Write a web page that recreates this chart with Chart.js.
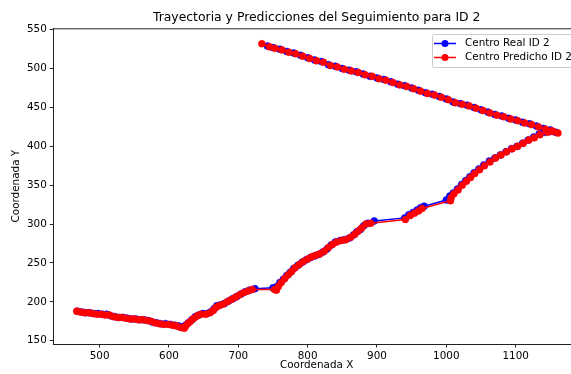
<html>
<head>
<meta charset="utf-8">
<script src="https://cdn.jsdelivr.net/npm/chart.js@4.4.1/dist/chart.umd.min.js"></script>
<style>
  body { margin: 0; overflow: hidden; background: #fff; }
  #wrap { width: 633px; height: 374px; }
</style>
</head>
<body>
<div id="wrap"><canvas id="traj" width="633" height="374"></canvas></div>
<script>
// tick labels
var xTicks = [500, 600, 700, 800, 900, 1000, 1100];
var yTicks = [150, 200, 250, 300, 350, 400, 450, 500, 550];

// Centro Real ID 2
var realX = [468,474,480,486,492,498,504,510,516,522,528,534,540,546,552,558,564,570,576,582,588,595,602,608,614,620,624,628,633,638,643,649,655,660,665,669,674,680,686,692,698,704,710,716,724,750,756,760,765,770,775,780,786,792,798,804,810,816,822,828,834,840,847,853,860,866,871,876,881,887,896,940,946,952,958,963,968,1000,1005,1010,1016,1022,1028,1034,1040,1047,1054,1062,1070,1078,1086,1094,1102,1110,1118,1126,1134,1142,1150,1158,1150,1140,1130,1120,1110,1100,1090,1080,1070,1060,1050,1040,1030,1020,1010,1000,990,980,970,960,950,940,930,920,910,900,890,880,870,860,850,840,830,820,810,800,790,780,770,760,750,742];
var realY = [188,187,186,186,185,185,184,184,182,181,180,180,179,178,178,177,177,176,174,173,172,172,171,170,169,168,170,173,177,181,183,185,185,187,191,195,196,198,201,204,207,210,213,215,217,218,220,225,229,234,238,243,247,251,254,257,259,261,264,268,273,277,279,280,282,286,290,293,298,301,304,308,312,315,318,321,323,331,336,340,345,351,356,361,366,371,376,381,385,389,393,397,400,404,408,412,416,418,419,418,421,423,426,429,431,434,436,439,441,444,447,450,453,455,457,461,464,467,469,472,475,478,480,483,486,488,490,493,496,498,500,503,505,509,511,514,517,520,522,525,527,529];

// Centro Predicho ID 2
var predX = [467,472,478,484,490,496,502,508,514,520,526,532,538,544,550,556,562,568,574,580,586,592,599,605,611,617,622,624,627,631,636,641,646,653,659,664,668,672,678,684,690,696,702,708,714,720,752,755,758,762,767,772,777,782,788,794,800,806,812,818,824,830,836,842,849,855,862,868,873,878,884,891,941,948,954,960,965,1006,1007,1011,1017,1023,1029,1035,1041,1048,1055,1063,1071,1079,1087,1095,1103,1111,1119,1127,1135,1146,1154,1161,1152,1143,1133,1123,1113,1103,1093,1083,1073,1063,1053,1043,1033,1023,1013,1003,993,983,973,963,953,943,933,923,913,903,893,883,873,863,853,843,833,823,813,803,793,783,773,763,753,745,734];
var predY = [188,187,186,186,185,184,184,183,183,181,180,180,179,178,178,177,177,176,175,173,172,171,171,170,169,167,166,169,172,175,179,182,184,184,186,189,193,195,197,200,203,206,209,212,214,216,216,215,220,225,230,235,239,244,248,252,255,258,260,262,265,270,274,277,279,280,283,287,291,295,300,301,306,311,314,317,320,330,334,339,344,350,355,360,365,370,375,380,385,389,393,397,400,404,408,411,415,418,419,417,420,422,425,428,430,433,435,438,440,443,446,449,452,454,456,460,463,466,468,471,474,477,479,482,485,487,490,492,495,497,499,502,504,508,510,513,516,519,521,524,526,528,532];

var chartTitle = 'Trayectoria y Predicciones del Seguimiento para ID 2';
var seriesNames = ['Centro Real ID 2', 'Centro Predicho ID 2'];

function pairs(xs, ys) {
  var out = [];
  for (var i = 0; i < xs.length; i++) out.push({x: xs[i], y: ys[i]});
  return out;
}

// title over the axes, top spine, matplotlib style legend
var extras = {
  id: 'extras',
  afterDraw: function(chart) {
    var ctx = chart.ctx, a = chart.chartArea;
    ctx.save();
    ctx.fillStyle = '#000';
    ctx.font = '12.4px "DejaVu Sans"';
    ctx.textAlign = 'center';
    ctx.textBaseline = 'middle';
    ctx.fillText(chartTitle, (a.left + a.right) / 2, 17.5);

    ctx.strokeStyle = '#222';
    ctx.lineWidth = 1;
    ctx.beginPath();
    ctx.moveTo(a.left, a.top + 0.5);
    ctx.lineTo(a.right, a.top + 0.5);
    ctx.stroke();

    // legend box
    var bx = 432.5, by = 34.5, bw = 143, bh = 33;
    ctx.globalAlpha = 0.8;
    ctx.fillStyle = '#fff';
    ctx.beginPath();
    ctx.roundRect(bx, by, bw, bh, 2);
    ctx.fill();
    ctx.globalAlpha = 1;
    ctx.strokeStyle = '#ccc';
    ctx.stroke();

    var cols = ['#0000ff', '#ff0000'];
    var rows = [43.5, 57.5];
    ctx.font = '10.4px "DejaVu Sans"';
    ctx.textAlign = 'left';
    for (var i = 0; i < 2; i++) {
      ctx.strokeStyle = cols[i];
      ctx.fillStyle = cols[i];
      ctx.lineWidth = 1.5;
      ctx.beginPath();
      ctx.moveTo(434, rows[i]);
      ctx.lineTo(456, rows[i]);
      ctx.stroke();
      ctx.beginPath();
      ctx.arc(445, rows[i], 3.5, 0, Math.PI * 2);
      ctx.fill();
      ctx.fillStyle = '#000';
      ctx.fillText(seriesNames[i], 465, rows[i]);
    }
    ctx.restore();
  }
};

new Chart(document.getElementById('traj'), {
  type: 'scatter',
  data: {
    datasets: [{
      label: seriesNames[0],
      data: pairs(realX, realY),
      showLine: true,
      borderColor: '#0000ff',
      backgroundColor: '#0000ff',
      borderWidth: 1.5,
      pointRadius: 3.5,
      pointBorderWidth: 0.5,
      order: 2
    }, {
      label: seriesNames[1],
      data: pairs(predX, predY),
      showLine: true,
      borderColor: '#ff0000',
      backgroundColor: '#ff0000',
      borderWidth: 1.5,
      pointRadius: 3.5,
      pointBorderWidth: 0.5,
      order: 1
    }]
  },
  options: {
    responsive: false,
    animation: false,
    devicePixelRatio: 1,
    layout: { padding: { top: 28.3, left: 0, right: 53, bottom: 0 } },
    plugins: {
      legend: { display: false },
      tooltip: { enabled: false },
      title: { display: false }
    },
    scales: {
      x: {
        type: 'linear',
        min: 433.2,
        max: 1192.8,
        afterBuildTicks: function(s) { s.ticks = xTicks.map(function(v) { return {value: v}; }); },
        afterFit: function(s) { s.height = 30; },
        grid: { display: true, drawOnChartArea: false, drawTicks: true, tickLength: 3.5, color: '#222' },
        border: { display: true, color: '#222', width: 1 },
        ticks: { color: '#000', padding: 3, maxRotation: 0, font: { family: 'DejaVu Sans', size: 10.4 },
                 callback: function(v) { return String(v); } },
        title: { display: true, text: 'Coordenada X', color: '#000', padding: { top: 0, bottom: 2.5 }, font: { family: 'DejaVu Sans', size: 10.4 } }
      },
      y: {
        type: 'linear',
        min: 145.8,
        max: 551.8,
        afterBuildTicks: function(s) { s.ticks = yTicks.map(function(v) { return {value: v}; }); },
        afterFit: function(s) { s.width = 53.3; },
        grid: { display: true, drawOnChartArea: false, drawTicks: true, tickLength: 3.5, color: '#222' },
        border: { display: true, color: '#222', width: 1 },
        ticks: { color: '#000', padding: 3, font: { family: 'DejaVu Sans', size: 10.4 },
                 callback: function(v) { return String(v); } },
        title: { display: true, text: 'Coordenada Y', color: '#000', padding: { top: 10.5, bottom: 0 }, font: { family: 'DejaVu Sans', size: 10.4 } }
      }
    }
  },
  plugins: [extras]
});
</script>
</body>
</html>
